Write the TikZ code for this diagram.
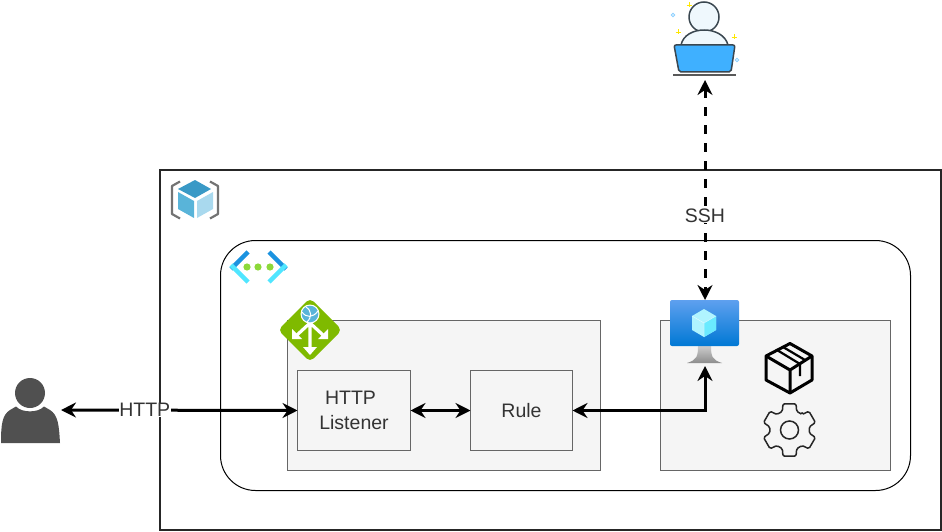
\documentclass[tikz,border=0pt]{standalone}
\usepackage{fontspec}
\setmainfont{Liberation Sans}
\usetikzlibrary{arrows.meta}

\definecolor{boxfill}{HTML}{F5F5F5}
\definecolor{boxline}{HTML}{666666}
\definecolor{labelgray}{HTML}{333333}
\definecolor{usergray}{HTML}{505050}
\definecolor{devline}{HTML}{3A4750}
\definecolor{devface}{HTML}{EFF8FD}
\definecolor{devblue}{HTML}{3FB0FF}
\definecolor{azgreen}{HTML}{7FBA00}
\definecolor{azglobe}{HTML}{59B4D9}
\definecolor{cubetop}{HTML}{3999C6}
\definecolor{cubeleft}{HTML}{59B4D9}
\definecolor{cuberight}{HTML}{A9D9EE}
\definecolor{netdark}{HTML}{1B93E0}
\definecolor{netlight}{HTML}{50E6FF}
\definecolor{netdot}{HTML}{8CD93A}
\definecolor{vmtop}{HTML}{5EA0EF}
\definecolor{vmbottom}{HTML}{0078D4}

\tikzset{
  container/.style={draw=boxline, fill=boxfill, line width=1pt, inner sep=0pt, outer sep=0pt},
  textbox/.style={container, text=labelgray, align=center, font=\fontsize{19.5}{24.5}\selectfont},
  iconspot/.style={inner sep=0pt, outer sep=0pt},
  link/.style={line width=3pt, {Stealth[length=15pt, width=15pt, inset=5pt]}-{Stealth[length=15pt, width=15pt, inset=5pt]}},
  linklabel/.style={fill=white, inner sep=0.5pt, text=labelgray, font=\fontsize{19.5}{23}\selectfont}
}

\begin{document}
\begin{tikzpicture}[x=1pt, y=-1pt]
  \useasboundingbox (0,0) rectangle (942,532);

  % resource group and network
  \node[draw=black!85, line width=2pt, minimum width=781pt, minimum height=360pt, iconspot] (rg) at (550.5,350) {};
  \node[draw=black, line width=1pt, rounded corners=35pt, fill=white, minimum width=690pt, minimum height=250pt, iconspot] (vnet) at (565.5,365.5) {};

  % gateway and vm boxes
  \node[container, minimum width=313pt, minimum height=150pt] (gwbox) at (444,395.5) {};
  \node[container, minimum width=230pt, minimum height=150pt] (vmbox) at (775.5,395.5) {};
  \node[textbox, minimum width=113pt, minimum height=80pt] (listener) at (354,410.5) {HTTP\hspace*{7pt}\\Listener};
  \node[textbox, minimum width=102pt, minimum height=80pt] (rule) at (521.5,410.5) {Rule};

  % spots for the icons
  \node[iconspot, minimum width=62pt, minimum height=66pt] (user) at (30,410) {};
  \node[iconspot, minimum width=64pt, minimum height=80pt] (dev) at (705,40) {};
  \node[iconspot, minimum width=70pt, minimum height=66pt] (vm) at (705,333) {};

  % connectors
  \draw[link] (user.east) -- node[linklabel, pos=0.354] (httplabel) {HTTP} (listener.west);
  \draw[link] (listener.east) -- (rule.west);
  \draw[link] (rule.east) -| (vm.south);
  \draw[link, dash pattern=on 9pt off 9pt] (dev.south) -- node[linklabel, pos=0.618] (sshlabel) {SSH} (vm.north);

  % user
  \fill[usergray] (1,443) .. controls (1,425) and (2,415) .. (10,410) -- (16,406.5)
    .. controls (22,413) and (38,413) .. (44,406.5) -- (50,410)
    .. controls (58,415) and (59,425) .. (60,443) -- cycle;
  \fill[usergray] (30,393) circle (15);

  % developer
  \begin{scope}[devline, line width=1.5pt]
    \draw[fill=devface] (704,17) circle (15);
    \draw[fill=devface] (681,45) .. controls (685,25) and (723,25) .. (728,45);
    \draw[fill=devblue, rounded corners=2pt] (674,45) -- (735,45) -- (731,72) -- (679,72) -- cycle;
    \draw[line width=1.5pt, black!65] (673,75) -- (736,75);
  \end{scope}
  \foreach \px/\py in {689/5, 678/32, 734/37}
    \draw[yellow!90!orange, line width=0.7pt] (\px-2.5,\py) -- (\px+2.5,\py) (\px,\py-2.5) -- (\px,\py+2.5);
  \foreach \px/\py in {673/15, 737/60}
    \draw[devblue!60, line width=0.8pt] (\px,\py) circle (1.7);

  % resource group icon
  \draw[black!55, line width=2.2pt, line join=round] (180,181.5) -- (172,186) -- (172,214) -- (180,218.5);
  \draw[black!55, line width=2.2pt, line join=round] (210,181.5) -- (218,186) -- (218,214) -- (210,218.5);
  \fill[cubetop] (195,180) -- (211,189) -- (195,198) -- (178,189) -- cycle;
  \fill[cubeleft] (178,192) -- (194,201) -- (194,218) -- (178,209) -- cycle;
  \fill[cuberight] (213,192) -- (197,201) -- (197,218) -- (213,209) -- cycle;

  % network icon
  \draw[netdark, line width=4.5pt] (231,269) -- (248,252);
  \draw[netlight, line width=4.5pt] (231,265) -- (248,282);
  \draw[netdark, line width=4.5pt] (286,269) -- (269,252);
  \draw[netlight, line width=4.5pt] (286,265) -- (269,282);
  \foreach \px in {247,258,270}
    \fill[netdot] (\px,267) circle (3.6);

  % gateway icon
  \fill[azgreen, rounded corners=5pt] (310,298) -- (342,330) -- (310,362) -- (278,330) -- cycle;
  \draw[white, line width=3.2pt] (310,322) -- (310,349) (310,323) -- (297,335) (310,323) -- (323,335);
  \fill[white] (303,347) -- (317,347) -- (310,355) -- cycle;
  \fill[white] (292,329) -- (292,339) -- (302,339) -- cycle;
  \fill[white] (328,329) -- (328,339) -- (318,339) -- cycle;
  \fill[white] (310,314) circle (9.5);
  \fill[azglobe] (310,314) circle (8.3);
  \draw[white, line width=1pt] (302,312) .. controls (306,318) and (313,318) .. (318,311) (306,307) .. controls (312,311) and (312,317) .. (307,322);

  % vm icon
  \shade[top color=black!20, bottom color=black!45] (698,346) -- (711,346) .. controls (711,356) and (712,360) .. (722,363) -- (687,363) .. controls (697,360) and (698,356) .. (698,346) -- cycle;
  \shade[top color=vmtop, bottom color=vmbottom, rounded corners=2pt] (670,300) rectangle (739,346);
  \fill[netlight!45] (704,309) -- (716,316) -- (716,330) -- (704,337) -- (692,330) -- (692,316) -- cycle;
  \fill[netlight!85] (704,323) -- (716,316) -- (716,330) -- (704,337) -- cycle;
  \draw[white, opacity=0.6, line width=0.5pt] (692,316) -- (704,323) -- (716,316) (704,323) -- (704,337);

  % package icon
  \begin{scope}[line width=3pt, line join=round, black]
    \draw (790,343.5) -- (812,356) -- (812,380) -- (790,393) -- (766,380) -- (766,356) -- cycle;
    \draw (766,356) -- (790,370) -- (812,356) (790,370) -- (790,393);
    \draw[line width=2.2pt] (777,350) -- (800,364) -- (800,376);
    \draw[line width=2.2pt] (783,347) -- (805,360);
  \end{scope}

  % gear icon
  \begin{scope}[shift={(789.5,430)}]
    \draw[black!85, line width=1.5pt, rounded corners=1.5pt] (-51:20)
      \foreach \ang in {-30,30,90,150,210,270} {
        -- (\ang-21:20) -- (\ang-14:27) -- (\ang+14:27) -- (\ang+21:20)
      } -- cycle;
    \draw[black!85, line width=1.5pt] (0,0) circle (9);
  \end{scope}
\end{tikzpicture}
\end{document}
